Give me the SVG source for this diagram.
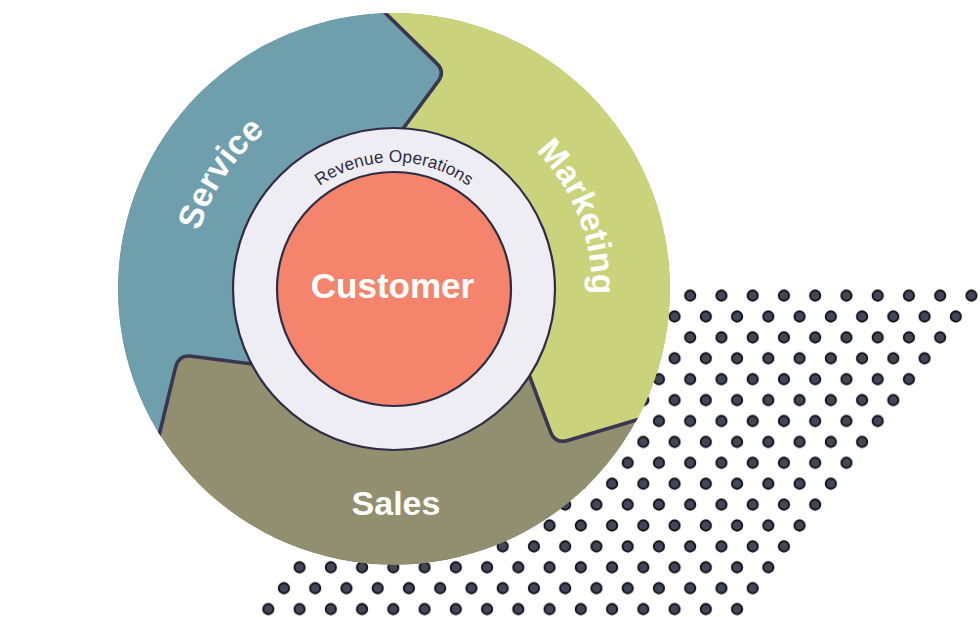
<svg xmlns="http://www.w3.org/2000/svg" width="980" height="617" viewBox="0 0 980 617">
  <style>
    .seg-label { font-family: "Liberation Sans", Arial, sans-serif; font-weight: 700; fill: #ffffff; }
    .divider { fill: none; stroke: #3a3652; stroke-width: 3.6; stroke-linejoin: round; }
    .ring-line { stroke: #2f2b45; stroke-width: 2.2; }
  </style>
  <defs>
    <pattern id="dotGrid" patternUnits="userSpaceOnUse" x="494.9" y="285.15" width="31.25" height="41.8">
      <circle cx="7.8" cy="10.45" r="5.2" fill="#414759" stroke="#0f0f14" stroke-width="1.8"/>
      <circle cx="23.425" cy="31.35" r="5.2" fill="#414759" stroke="#0f0f14" stroke-width="1.8"/>
    </pattern>
    <clipPath id="outerClip">
      <circle cx="394" cy="289" r="276"/>
    </clipPath>
    <path id="arcService" d="M 195.0 329.1 A 203 203 0 0 1 353.9 90.0"/>
    <path id="arcMarketing" d="M 475.3 109.0 A 196 196 0 0 1 575.7 366.0"/>
    <path id="arcRevops" d="M 274.7 245.6 A 127 127 0 0 1 513.3 245.6"/>
  </defs>

  <g id="dots">
    <polygon points="495,285 995,285 744.6,620 244.6,620" fill="url(#dotGrid)"/>
  </g>

  <g id="cycle" clip-path="url(#outerClip)">
    <g id="node-sales">
      <circle cx="394" cy="289" r="276" fill="#918f6f"/>
    </g>
    <g id="node-service">
      <path d="M 394 289 L 395 139.5 L 438.1 81.4 Q 445.3 71.8 436.7 63.4 L 371 -1 L 360 -20 L -50 -20 L -50 514 L 140 514 L 156 448 L 175.6 367.2 Q 178.7 354.6 191.6 356.2 L 275 367 Z" fill="#6f9fad"/>
    </g>
    <g id="node-marketing">
      <path d="M 394 289 L 395 139.5 L 438.1 81.4 Q 445.3 71.8 436.7 63.4 L 371 -1 L 360 -20 L 1000 -20 L 1000 390 L 690 398 L 660 413 L 567.6 440.4 Q 555.1 444.1 550.5 431.9 L 522 356 Z" fill="#cad27b"/>
    </g>
    <g id="connectors">
      <path class="divider" d="M 371 -1 L 436.7 63.4 Q 445.3 71.8 438.1 81.4 L 395 139.5"/>
      <path class="divider" d="M 156 448 L 175.6 367.2 Q 178.7 354.6 191.6 356.2 L 275 367"/>
      <path class="divider" d="M 522 356 L 550.5 431.9 Q 555.1 444.1 567.6 440.4 L 660 413"/>
    </g>
  </g>

  <g id="labels-segments">
    <text class="seg-label" font-size="34" text-anchor="middle"><textPath href="#arcService" startOffset="50%">Service</textPath></text>
    <text class="seg-label" font-size="33.5" text-anchor="middle"><textPath href="#arcMarketing" startOffset="50%">Marketing</textPath></text>
    <text class="seg-label" font-size="34" x="396" y="515" text-anchor="middle">Sales</text>
  </g>

  <g id="node-revops">
    <circle class="ring-line" cx="394" cy="289" r="161" fill="#efedf4"/>
    <text font-family="'Liberation Sans', Arial, sans-serif" font-size="17.3" fill="#2f2b45" text-anchor="middle"><textPath href="#arcRevops" startOffset="50%">Revenue Operations</textPath></text>
  </g>

  <g id="node-customer">
    <circle class="ring-line" cx="394" cy="289" r="117" fill="#f5846c"/>
    <text class="seg-label" font-size="35" x="392.5" y="298" text-anchor="middle">Customer</text>
  </g>
</svg>
